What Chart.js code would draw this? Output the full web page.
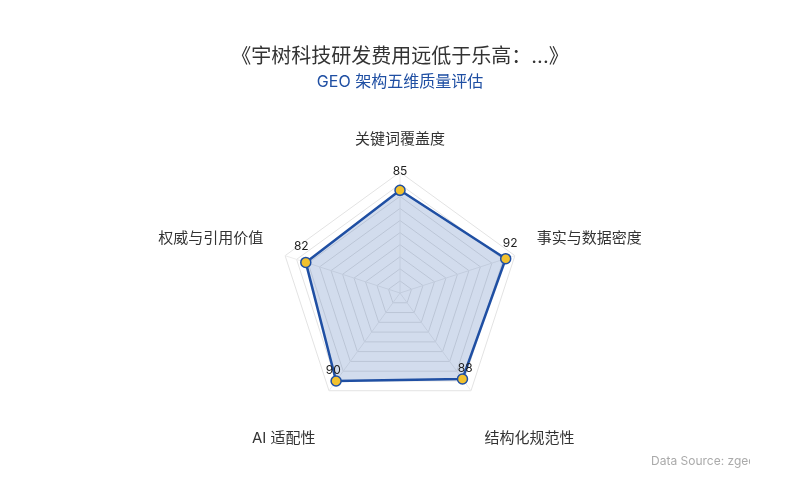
<!DOCTYPE html>
<html><head><meta charset="utf-8">
<script src="https://cdn.jsdelivr.net/npm/chart.js@4"></script>
<style>
html,body{margin:0;padding:0;background:#fff;}
#wrap{position:relative;width:800px;height:500px;}
#src{position:absolute;left:651px;top:453px;width:99px;overflow:hidden;white-space:nowrap;font:12px Inter,"Noto Sans CJK SC",sans-serif;color:#aaa;}
</style></head>
<body>
<div id="wrap"><canvas id="c" width="800" height="500"></canvas><div id="src">Data Source: zgeo.ai</div></div>
<script>
const titleText = "《宇树科技研发费用远低于乐高：...》";
const subtitleText = "GEO 架构五维质量评估";
const categories = ["关键词覆盖度", "事实与数据密度", "结构化规范性", "AI 适配性", "权威与引用价值"];
const scores = [85, 92, 88, 90, 82];
const FONT = 'Inter, "Noto Sans CJK SC", sans-serif';

// bottom labels sit one line lower in the reference
const axisLabels = categories.map((c, i) => (i === 2 || i === 3) ? ['', c] : c);

const valueLabels = {
  id: 'valueLabels',
  afterDatasetsDraw(chart) {
    const ctx = chart.ctx;
    const meta = chart.getDatasetMeta(0);
    const r = chart.scales.r;
    ctx.save();
    ctx.font = '12px ' + FONT;
    ctx.fillStyle = '#222';
    ctx.textAlign = 'center';
    ctx.textBaseline = 'middle';
    meta.data.forEach((pt, i) => {
      const dx = pt.x - r.xCenter, dy = pt.y - r.yCenter;
      const d = Math.hypot(dx, dy) || 1;
      ctx.fillText(String(chart.data.datasets[0].data[i]), pt.x + dx / d * 4.7, pt.y + dy / d * 4.7 - 14.3);
    });
    ctx.restore();
  }
};

new Chart(document.getElementById('c'), {
  type: 'radar',
  data: {
    labels: axisLabels,
    datasets: [{
      data: scores,
      borderColor: '#1f4fa3',
      borderWidth: 2.5,
      backgroundColor: 'rgba(31,79,163,0.2)',
      fill: true,
      pointBackgroundColor: '#f2c12e',
      pointBorderColor: '#1f4fa3',
      pointBorderWidth: 1.5,
      pointRadius: 5,
      tension: 0
    }]
  },
  options: {
    responsive: false,
    animation: false,
    layout: { padding: { top: 0, bottom: 47, left: 0, right: 0 } },
    plugins: {
      legend: { display: false },
      tooltip: { enabled: false },
      title: { display: true, text: titleText, color: '#333', font: { family: FONT, size: 20, weight: 'normal' }, padding: { top: 45, bottom: 4 } },
      subtitle: { display: true, text: subtitleText, color: '#1f4fa3', font: { family: FONT, size: 16, weight: 'normal' }, padding: { top: 0, bottom: 32.5 } }
    },
    scales: {
      r: {
        min: 0, max: 100,
        ticks: { display: false, stepSize: 10 },
        grid: { color: '#e3e3e3', lineWidth: 1 },
        angleLines: { display: true, color: '#ececec' },
        pointLabels: { color: '#333', font: { family: FONT, size: 15, lineHeight: 1.3 }, padding: 23 }
      }
    }
  },
  plugins: [valueLabels]
});
</script>
</body></html>
